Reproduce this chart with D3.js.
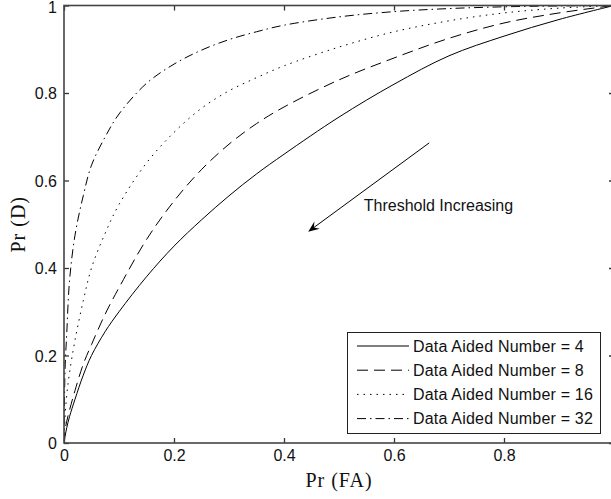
<!DOCTYPE html>
<html>
<head>
<meta charset="utf-8">
<script src="https://cdn.jsdelivr.net/npm/d3@7/dist/d3.min.js"></script>
<style>
  html, body { margin: 0; padding: 0; background: #fff; }
  svg { display: block; }
  .tick text { font-family: "Liberation Sans", Arial, sans-serif; font-size: 16px; fill: #111; }
</style>
</head>
<body>
<svg id="chart" width="611" height="499"></svg>
<script>
// ROC curves: probability of detection vs. probability of false alarm
const pfa = [0, 0.002, 0.005, 0.01, 0.02, 0.035, 0.05, 0.075, 0.1, 0.15, 0.2, 0.25, 0.3, 0.35, 0.4, 0.5, 0.6, 0.7, 0.8, 0.9, 1];

const pdN4  = [0, 0.015, 0.035, 0.06, 0.10, 0.155, 0.20, 0.255, 0.30, 0.38, 0.45, 0.51, 0.565, 0.615, 0.66, 0.745, 0.82, 0.885, 0.93, 0.968, 1];
const pdN8  = [0, 0.03, 0.05, 0.075, 0.12, 0.18, 0.225, 0.295, 0.355, 0.465, 0.553, 0.625, 0.683, 0.73, 0.768, 0.83, 0.88, 0.925, 0.96, 0.983, 1];
const pdN16 = [0, 0.06, 0.11, 0.16, 0.235, 0.325, 0.40, 0.48, 0.545, 0.64, 0.71, 0.765, 0.805, 0.835, 0.862, 0.905, 0.94, 0.965, 0.983, 0.994, 1];
const pdN32 = [0, 0.17, 0.25, 0.37, 0.475, 0.565, 0.635, 0.70, 0.752, 0.822, 0.866, 0.898, 0.922, 0.94, 0.955, 0.974, 0.986, 0.993, 0.997, 0.999, 1];

const seriesNames = ["Data Aided Number = 4", "Data Aided Number = 8", "Data Aided Number = 16", "Data Aided Number = 32"];
const seriesValues = [pdN4, pdN8, pdN16, pdN32];
const seriesDash = [null, "11,6", "1.5,5", "9,4,1.5,4"];

const xTicks = [0, 0.2, 0.4, 0.6, 0.8];
const yTicks = [0, 0.2, 0.4, 0.6, 0.8, 1];
const xLabel = "Pr (FA)";
const yLabel = "Pr (D)";

// annotation arrow (data coordinates) and its caption
const arrowFrom = [0.664, 0.686];
const arrowTo = [0.444, 0.483];
const arrowText = "Threshold Increasing";
const arrowTextPos = [0.545, 0.530];

const svg = d3.select("#chart");
const plotLeft = 64, plotRight = 614, plotTop = 5.5, plotBottom = 443;

const x = d3.scaleLinear().domain([0, 1]).range([plotLeft, plotRight]);
const y = d3.scaleLinear().domain([0, 1]).range([plotBottom, plotTop]);

// curves
svg.append("defs").append("clipPath").attr("id", "plotClip")
  .append("rect").attr("x", plotLeft).attr("y", plotTop)
  .attr("width", plotRight - plotLeft).attr("height", plotBottom - plotTop);

const line = d3.line()
  .x((d, i) => x(pfa[i]))
  .y(d => y(d))
  .curve(d3.curveCatmullRom.alpha(0.5));

const curves = svg.append("g").attr("clip-path", "url(#plotClip)");
seriesValues.forEach((vals, k) => {
  curves.append("path")
    .attr("d", line(vals))
    .attr("fill", "none")
    .attr("stroke", "#000")
    .attr("stroke-width", 1)
    .attr("stroke-dasharray", seriesDash[k]);
});

// axes with inward ticks on all four sides
const gx = svg.append("g").attr("transform", `translate(0,${plotBottom})`)
  .call(d3.axisBottom(x).tickValues(xTicks).tickFormat(d3.format("~g")).tickSizeInner(-5).tickSizeOuter(0).tickPadding(7));
const gy = svg.append("g").attr("transform", `translate(${plotLeft},0)`)
  .call(d3.axisLeft(y).tickValues(yTicks).tickFormat(d3.format("~g")).tickSizeInner(-5).tickSizeOuter(0).tickPadding(7));
const gxTop = svg.append("g").attr("transform", `translate(0,${plotTop})`)
  .call(d3.axisTop(x).tickValues(xTicks).tickFormat("").tickSizeInner(-5).tickSizeOuter(0));
const gyRight = svg.append("g").attr("transform", `translate(${plotRight},0)`)
  .call(d3.axisRight(y).tickValues(yTicks).tickFormat("").tickSizeInner(-5).tickSizeOuter(0));

[gx, gy, gxTop, gyRight].forEach(g => {
  g.select(".domain").remove();
  g.selectAll(".tick line").attr("stroke", "#333").attr("stroke-width", 1.3);
});
// vertical centring of the y tick labels; keep the topmost one inside the frame
gy.selectAll(".tick text").attr("dy", d => d === 1 ? "0.45em" : "0.37em");

svg.append("rect")
  .attr("x", plotLeft).attr("y", plotTop)
  .attr("width", plotRight - plotLeft).attr("height", plotBottom - plotTop)
  .attr("fill", "none").attr("stroke", "#444").attr("stroke-width", 1.6);

// axis titles
svg.append("text")
  .attr("x", (plotLeft + plotRight) / 2).attr("y", 487)
  .attr("text-anchor", "middle")
  .attr("font-family", "'Liberation Serif', 'Times New Roman', serif")
  .attr("font-size", 20).attr("letter-spacing", 1).attr("fill", "#111")
  .text(xLabel);

svg.append("text")
  .attr("transform", `translate(25,${(plotTop + plotBottom) / 2}) rotate(-90)`)
  .attr("text-anchor", "middle")
  .attr("font-family", "'Liberation Serif', 'Times New Roman', serif")
  .attr("font-size", 20).attr("letter-spacing", 1).attr("fill", "#111")
  .text(yLabel);

// annotation arrow
const ax0 = x(arrowFrom[0]), ay0 = y(arrowFrom[1]);
const ax1 = x(arrowTo[0]), ay1 = y(arrowTo[1]);
const ang = Math.atan2(ay1 - ay0, ax1 - ax0);
const headLen = 11, headHalf = 4.5, notch = 7;
const ux = Math.cos(ang), uy = Math.sin(ang);
const px = -uy, py = ux;
svg.append("line")
  .attr("x1", ax0).attr("y1", ay0)
  .attr("x2", ax1 - ux * notch).attr("y2", ay1 - uy * notch)
  .attr("stroke", "#000").attr("stroke-width", 1);
svg.append("path")
  .attr("d", `M${ax1},${ay1}` +
    `L${ax1 - ux * headLen + px * headHalf},${ay1 - uy * headLen + py * headHalf}` +
    `L${ax1 - ux * notch},${ay1 - uy * notch}` +
    `L${ax1 - ux * headLen - px * headHalf},${ay1 - uy * headLen - py * headHalf}Z`)
  .attr("fill", "#000");

svg.append("text")
  .attr("x", x(arrowTextPos[0])).attr("y", y(arrowTextPos[1]))
  .attr("font-family", "'Liberation Sans', Arial, sans-serif")
  .attr("font-size", 16).attr("fill", "#111")
  .text(arrowText);

// legend
const lg = svg.append("g");
lg.append("rect")
  .attr("x", 347.5).attr("y", 332.5).attr("width", 253).attr("height", 101)
  .attr("fill", "#fff").attr("stroke", "#222").attr("stroke-width", 1);
seriesNames.forEach((name, k) => {
  const ry = 346 + k * 24.2;
  lg.append("line")
    .attr("x1", 357).attr("x2", 409).attr("y1", ry).attr("y2", ry)
    .attr("stroke", "#000").attr("stroke-width", 1)
    .attr("stroke-dasharray", seriesDash[k]);
  lg.append("text")
    .attr("x", 413).attr("y", ry + 5.8)
    .attr("font-family", "'Liberation Sans', Arial, sans-serif")
    .attr("font-size", 16).attr("letter-spacing", 0.2).attr("fill", "#111")
    .text(name);
});
</script>
</body>
</html>
